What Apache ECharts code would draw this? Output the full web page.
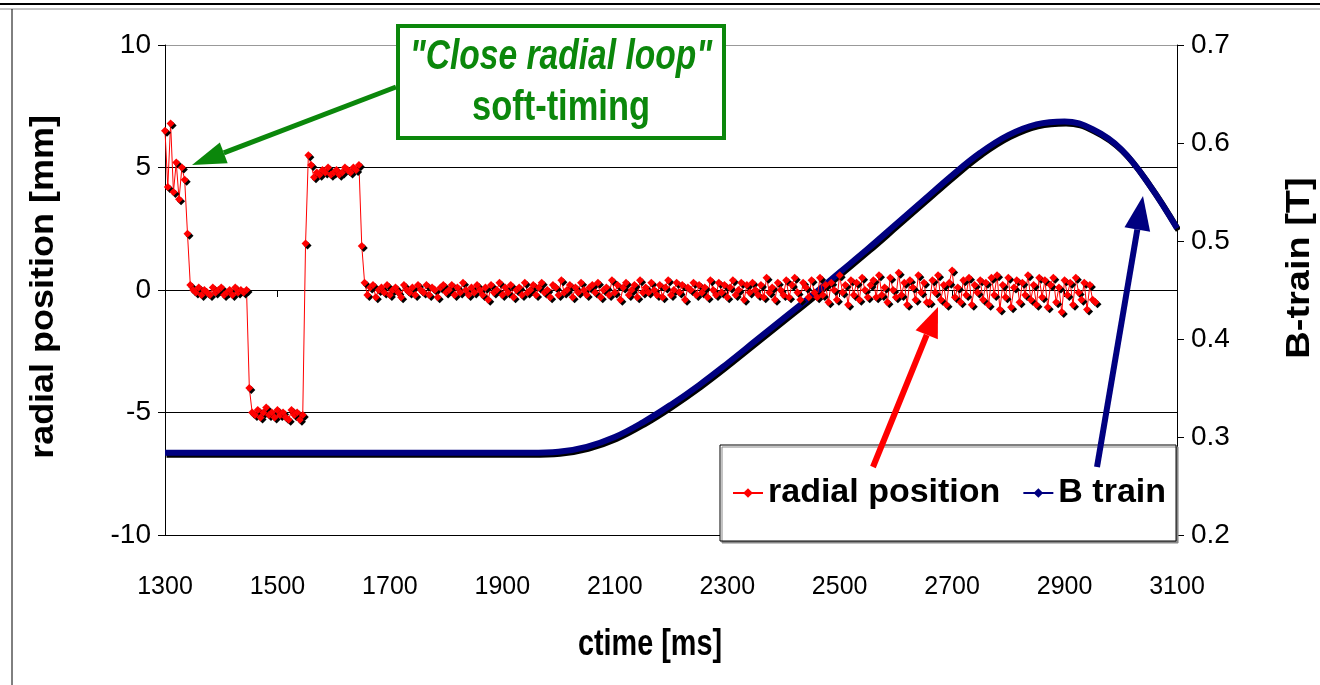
<!DOCTYPE html>
<html>
<head>
<meta charset="utf-8">
<title>radial position vs B-train</title>
<script src="https://cdn.jsdelivr.net/npm/echarts@6/dist/echarts.min.js"></script>
<style>
  html, body { margin: 0; padding: 0; background: #fff; }
  #chart { width: 1320px; height: 685px; }
</style>
</head>
<body>
<div id="chart"></div>
<script>
// radial position [mm], sampled every 5 ms from 1300 ms
const radialStartMs = 1300;
const radialStepMs = 5;
const radialValues = [
  6.5, 4.2, 6.8, 4.0, 5.2, 3.7, 5.0, 4.5, 2.3, 0.2,
  0.0, -0.1, 0.1, -0.2, 0.0, -0.1, -0.2, 0.1, -0.1, 0.0, 0.1, -0.2, -0.1, 0.0, -0.2, 0.1, -0.1, 0.0, -0.1, 0.0,
  -4.0, -5.0,
  -5.1, -4.9, -5.2, -5.0, -4.8, -5.1, -5.0, -5.2, -4.9, -5.1, -5.0, -5.2, -5.3, -4.9, -5.1, -5.0, -5.3, -5.1,
  1.9, 5.5,
  5.1, 4.6, 4.8, 4.7, 4.9, 4.8, 5.0, 4.7, 4.8, 4.9, 4.7, 4.8, 5.0, 4.9, 4.8, 5.0, 4.9, 5.1,
  1.8, 0.3,
  -0.2, 0.1, 0.2, -0.3, 0.0, 0.1, -0.1, 0.2, -0.2, 0.0, 0.1, -0.1, -0.3, 0.2, 0.0, -0.1, 0.1, -0.2, 0.2, 0.0,
  -0.1, 0.2, -0.2, 0.1, 0.0, -0.3, 0.1, 0.2, -0.1, 0.0, 0.2, -0.2, 0.1, -0.1, 0.3, 0.0, -0.2, 0.1, -0.1, 0.2,
  0.0, -0.2, 0.1, -0.4, 0.2, -0.1, 0.0, 0.3, -0.2, 0.1, -0.1, 0.2, -0.3, 0.0, 0.1, -0.2, 0.3, -0.1, 0.0, 0.2,
  -0.2, 0.1, 0.3, -0.1, 0.0, -0.3, 0.2, 0.1, -0.2, 0.4, -0.1, 0.0, 0.2, -0.3, 0.1, -0.1, 0.3, 0.0, -0.2, 0.1,
  0.2, -0.1, 0.3, -0.3, 0.0, 0.1, -0.2, 0.4, -0.1, 0.2, -0.4, 0.1, 0.3, -0.2, 0.0, 0.2, -0.3, 0.4, -0.1, 0.1,
  -0.1, 0.3, 0.0, -0.2, 0.2, -0.3, 0.1, 0.4, -0.2, 0.0, 0.3, -0.1, 0.2, -0.4, 0.1, 0.0, 0.3, -0.2, 0.2, -0.1,
  0.1, -0.3, 0.4, 0.0, -0.2, 0.3, -0.1, 0.2, -0.3, 0.1, 0.4, -0.2, 0.0, 0.3, -0.4, 0.2, -0.1, 0.3, 0.0, -0.2,
  0.2, -0.3, 0.5, -0.1, 0.1, -0.4, 0.3, 0.0, -0.2, 0.4, -0.3, 0.2, 0.5, -0.1, -0.4, 0.3, 0.1, -0.3, 0.4, -0.1,
  -0.3, 0.5, -0.2, 0.2, -0.5, 0.3, 0.0, -0.4, 0.6, -0.1, 0.2, -0.6, 0.4, -0.2, 0.3, -0.4, 0.5, 0.0, -0.3, 0.2,
  0.4, -0.3, 0.6, -0.2, 0.1, -0.5, 0.5, 0.0, -0.3, 0.7, -0.2, 0.3, -0.6, 0.4, 0.1, -0.4, 0.6, -0.1, 0.3, -0.5,
  -0.5, 0.4, -0.1, 0.6, -0.4, 0.2, -0.6, 0.3, 0.8, -0.3, 0.1, -0.5, 0.4, -0.2, 0.5, -0.6, 0.2, -0.1, 0.4, -0.4,
  0.3, -0.6, 0.5, -0.2, 0.6, -0.8, 0.2, -0.3, 0.5, -0.7, 0.1, 0.4, -0.5, 0.3, -0.2, 0.6, -0.4, 0.2, -0.6, 0.5,
  -0.3, 0.4, -0.7, 0.2, 0.5, -0.5, 0.1, -0.9, 0.4, -0.2, 0.3, -0.6, 0.5, -0.1, -0.4, 0.3, -0.8, 0.2, -0.4, -0.5
];

// B train [T]
const bTimes = [
  1300, 1350, 1400, 1450, 1500, 1550, 1600, 1650, 1700, 1750, 1800, 1850, 1900, 1950,
  2000, 2050, 2100, 2150, 2200, 2250, 2300, 2350, 2400, 2450, 2500, 2550, 2600, 2650,
  2700, 2750, 2800, 2850, 2900, 2950, 3000, 3050, 3100
];
const bValues = [
  0.284, 0.284, 0.284, 0.284, 0.284, 0.284, 0.284, 0.284, 0.284, 0.284, 0.284, 0.284, 0.284, 0.284,
  0.285, 0.290, 0.300, 0.315, 0.333, 0.353, 0.375, 0.398, 0.421, 0.444, 0.468, 0.492, 0.517, 0.542,
  0.567, 0.590, 0.608, 0.619, 0.622, 0.614, 0.594, 0.558, 0.513
];

const seriesNames = ['radial position', 'B train'];
const xTicks = { min: 1300, max: 3100, interval: 200 };
const leftTicks = { min: -10, max: 10, interval: 5 };
const rightTicks = { min: 0.2, max: 0.7, interval: 0.1 };

const SANS = '"Liberation Sans", Arial, sans-serif';
const GREEN = '#0b870b';

const radialData = radialValues.map((v, i) => [radialStartMs + i * radialStepMs, v]);
const bData = bTimes.map((t, i) => [t, bValues[i]]);

function arrow(x1, y1, x2, y2, color, width, head, half) {
  const a = Math.atan2(y2 - y1, x2 - x1);
  const bx = x2 - head * Math.cos(a);
  const by = y2 - head * Math.sin(a);
  const px = -Math.sin(a) * half;
  const py = Math.cos(a) * half;
  return [
    {
      type: 'line', z: 100,
      shape: { x1: x1, y1: y1, x2: bx, y2: by },
      style: { stroke: color, lineWidth: width }
    },
    {
      type: 'polygon', z: 100,
      shape: { points: [[x2, y2], [bx + px, by + py], [bx - px, by - py]] },
      style: { fill: color }
    }
  ];
}

// condensed-looking text: squeeze horizontally with scaleX
function label(text, x, y, font, color, opts) {
  return Object.assign({
    type: 'text', z: 101, x: x, y: y,
    style: { text: text, font: font, fill: color, textAlign: 'center', textVerticalAlign: 'middle' }
  }, opts || {});
}

const chart = echarts.init(document.getElementById('chart'));

const option = {
  animation: false,
  backgroundColor: '#fff',
  grid: { left: 165, right: 143, top: 45, bottom: 150 },
  legend: {
    data: seriesNames,
    left: 720,
    top: 445,
    orient: 'horizontal',
    backgroundColor: '#fff',
    borderColor: '#000',
    borderWidth: 1,
    shadowColor: '#888',
    shadowOffsetX: 2,
    shadowOffsetY: 2,
    padding: [31, 10, 31, 12],
    itemWidth: 30,
    itemHeight: 12,
    itemGap: 22,
    textStyle: { fontFamily: SANS, fontWeight: 'bold', fontSize: 34, color: '#000' }
  },
  xAxis: {
    type: 'value',
    min: xTicks.min,
    max: xTicks.max,
    interval: xTicks.interval,
    axisLine: { lineStyle: { color: '#000', width: 1 } },
    axisTick: { length: 7, lineStyle: { color: '#000' } },
    axisLabel: {
      fontFamily: SANS, fontSize: 25, color: '#000', margin: 40,
      formatter: v => String(v)
    },
    splitLine: { show: false }
  },
  yAxis: [
    {
      type: 'value',
      min: leftTicks.min,
      max: leftTicks.max,
      interval: leftTicks.interval,
      axisLine: { show: true, lineStyle: { color: '#000' } },
      axisTick: { show: true, length: 7, lineStyle: { color: '#000' } },
      axisLabel: { fontFamily: SANS, fontSize: 28, color: '#000', margin: 14 },
      splitLine: {
        show: true,
        lineStyle: { color: ['#000', '#000', '#000', '#000', '#999'], width: 1 }
      }
    },
    {
      type: 'value',
      position: 'right',
      min: rightTicks.min,
      max: rightTicks.max,
      interval: rightTicks.interval,
      axisLine: { show: true, lineStyle: { color: '#000' } },
      axisTick: { show: true, length: 7, lineStyle: { color: '#000' } },
      axisLabel: {
        fontFamily: SANS, fontSize: 28, color: '#000', margin: 14,
        formatter: v => v.toFixed(1)
      },
      splitLine: { show: false }
    }
  ],
  series: [
    {
      name: seriesNames[0],
      type: 'line',
      yAxisIndex: 0,
      z: 4,
      data: radialData,
      symbol: 'diamond',
      symbolSize: 8,
      lineStyle: { color: '#ff0000', width: 1 },
      itemStyle: {
        color: '#ff0000',
        shadowColor: '#000',
        shadowBlur: 0,
        shadowOffsetX: 2,
        shadowOffsetY: 2
      }
    },
    {
      name: seriesNames[1],
      type: 'line',
      yAxisIndex: 1,
      z: 3,
      data: bData,
      smooth: 0.4,
      symbol: 'diamond',
      symbolSize: 8,
      showSymbol: false,
      lineStyle: {
        color: '#000080',
        width: 6,
        shadowColor: '#000',
        shadowBlur: 0,
        shadowOffsetX: 1.5,
        shadowOffsetY: 2
      },
      itemStyle: { color: '#000080' }
    }
  ],
  graphic: [
    // sheet frame
    { type: 'line', shape: { x1: 0, y1: 4, x2: 1320, y2: 4 }, style: { stroke: '#000', lineWidth: 2 } },
    { type: 'line', shape: { x1: 0, y1: 9, x2: 1320, y2: 9 }, style: { stroke: '#888', lineWidth: 1 } },
    { type: 'line', shape: { x1: 12, y1: 9, x2: 12, y2: 685 }, style: { stroke: '#000', lineWidth: 1 } },
    // axis titles
    label('radial position [mm]', 44, 287, 'bold 33px ' + SANS, '#000',
      { rotation: Math.PI / 2, scaleX: 1.09 }),
    label('B-train [T]', 1300, 268, 'bold 33px ' + SANS, '#000',
      { rotation: Math.PI / 2, scaleX: 1.15 }),
    label('ctime [ms]', 650, 645, 'bold 36px ' + SANS, '#000', { scaleX: 0.8 }),
    // annotation box
    {
      type: 'rect', z: 100,
      shape: { x: 398, y: 26, width: 326, height: 112 },
      style: { fill: '#fff', stroke: GREEN, lineWidth: 4 }
    },
    label('"Close radial loop"', 561, 57, 'italic bold 42px ' + SANS, GREEN, { scaleX: 0.8 }),
    label('soft-timing', 561, 108, 'bold 42px ' + SANS, GREEN, { scaleX: 0.82 })
  ]
    .concat(arrow(396, 87, 192, 165, GREEN, 5, 34, 11))
    .concat(arrow(873, 467, 938, 307, '#ff0000', 6, 30, 12))
    .concat(arrow(1097, 467, 1143, 196, '#000080', 6, 34, 13))
};

chart.setOption(option);
window.addEventListener('resize', () => chart.resize());
</script>
</body>
</html>
